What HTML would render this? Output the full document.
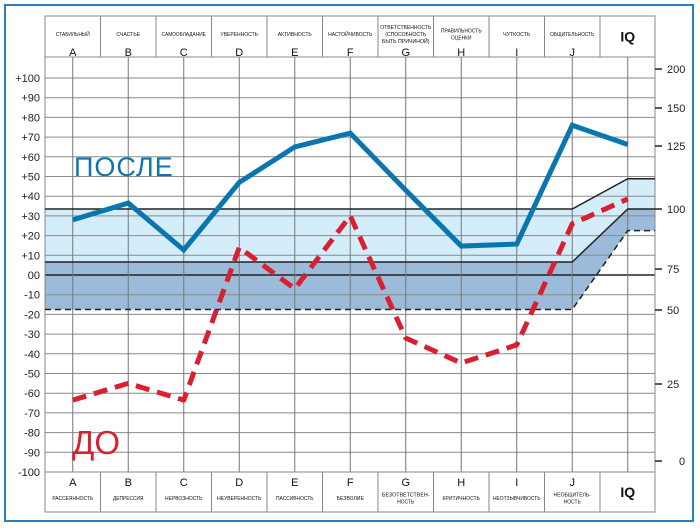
<!DOCTYPE html>
<html><head><meta charset="utf-8">
<style>
html,body{margin:0;padding:0;background:#fff;}
svg{display:block;font-family:"Liberation Sans","DejaVu Sans",sans-serif;}
</style></head>
<body>
<svg id="chart" width="700" height="529" viewBox="0 0 700 529" xmlns="http://www.w3.org/2000/svg">
<rect x="5" y="5" width="688" height="516" fill="#fff" stroke="#2a7fc0" stroke-width="2"/>
<g id="bands"></g>
<g id="grid"></g>
<g id="boxes"></g>
<g id="series"></g>
<text x="74" y="176" font-size="27" fill="#0a76b0" letter-spacing="1">ПОСЛЕ</text>
<text x="72" y="454" font-size="33" fill="#d82030">ДО</text>
</svg>
<script>
const categories = ["A","B","C","D","E","F","G","H","I","J"];
const topLabels = [["СТАБИЛЬНЫЙ"],["СЧАСТЬЕ"],["САМООБЛАДАНИЕ"],["УВЕРЕННОСТЬ"],["АКТИВНОСТЬ"],["НАСТОЙЧИВОСТЬ"],["ОТВЕТСТВЕННОСТЬ","(СПОСОБНОСТЬ","БЫТЬ ПРИЧИНОЙ)"],["ПРАВИЛЬНОСТЬ","ОЦЕНКИ"],["ЧУТКОСТЬ"],["ОБЩИТЕЛЬНОСТЬ"]];
const bottomLabels = [["РАССЕЯННОСТЬ"],["ДЕПРЕССИЯ"],["НЕРВОЗНОСТЬ"],["НЕУВЕРЕННОСТЬ"],["ПАССИВНОСТЬ"],["БЕЗВОЛИЕ"],["БЕЗОТВЕТСТВЕН-","НОСТЬ"],["КРИТИЧНОСТЬ"],["НЕОТЗЫВЧИВОСТЬ"],["НЕОБЩИТЕЛЬ-","НОСТЬ"]];
const afterValues = [28, 36.5, 12.7, 47, 65, 72, 43, 14.7, 15.7, 76];
const afterIQ = 126;
const beforeValues = [-63.5, -55, -63.5, 14, -7, 30, -32, -44.7, -35.5, 26];
const beforeIQ = 104;
const leftTicks = [100,90,80,70,60,50,40,30,20,10,0,-10,-20,-30,-40,-50,-60,-70,-80,-90,-100];
const rightTicks = [200,150,125,100,75,50,25,0];
const bandValues = [33.5, 6.6, -17.5];
const iqBandValues = [112, 100, 91];

const NS="http://www.w3.org/2000/svg";
const X0=45, COLW=55.5, X1=655;
function xc(i){return X0+COLW*(i+0.5);}
function y(v){return 275-1.97*v;}
// right IQ axis: piecewise from reference anchors
const iqDom=[0,25,50,75,100,125,150,200], iqRng=[461,384,310,269,209,146,108,69];
function yiq(v){for(let k=0;k<iqDom.length-1;k++){if(v<=iqDom[k+1]){const t=(v-iqDom[k])/(iqDom[k+1]-iqDom[k]);return iqRng[k]+t*(iqRng[k+1]-iqRng[k]);}}return iqRng[iqRng.length-1];}
function mk(tag,attrs,parent,txt){const e=document.createElementNS(NS,tag);for(const k in attrs)e.setAttribute(k,attrs[k]);if(txt!==undefined)e.textContent=txt;parent.appendChild(e);return e;}
const bands=document.getElementById('bands'),grid=document.getElementById('grid'),boxes=document.getElementById('boxes'),series=document.getElementById('series');
const xJ=xc(9), xQ=xc(10);
// bands
const yT=y(bandValues[0]), yM=y(bandValues[1]), yD=y(bandValues[2]);
const qT=yiq(iqBandValues[0]), qM=yiq(iqBandValues[1]), qD=yiq(iqBandValues[2]);
let p=mk('polygon',{points:`${X0},${yT} ${xJ},${yT} ${xQ},${qT} ${X1},${qT} ${X1},${qM} ${xQ},${qM} ${xJ},${yM} ${X0},${yM}`,fill:'#d4edfa'},bands);


p=mk('polygon',{points:`${X0},${yM} ${xJ},${yM} ${xQ},${qM} ${X1},${qM} ${X1},${qD} ${xQ},${qD} ${xJ},${yD} ${X0},${yD}`,fill:'#9cbad9'},bands);


// grid
leftTicks.forEach(v=>{
  const l=mk('line',{x1:X0,x2:X1,y1:y(v),y2:y(v),stroke:v===0?'#222':'#8a8a8a','stroke-width':v===0?1.5:1},grid);
  
  
  const t=mk('text',{x:40,y:y(v)+4,'font-size':11,'text-anchor':'end',fill:'#222'},grid,v>0?'+'+v:(v===0?'00':''+v));
  
  
});
for(let i=0;i<11;i++){
  const l=mk('line',{x1:xc(i),x2:xc(i),y1:57,y2:472,stroke:'#777','stroke-width':1},grid);
  
  
}
[X0,X1].forEach(xx=>{const l=mk('line',{x1:xx,x2:xx,y1:57,y2:472,stroke:'#888'},grid);
  
  });
// band lines
[[yT,qT,'solid'],[yM,qM,'solid'],[yD,qD,'dash']].forEach(b=>{
  const a={points:`${X0},${b[0]} ${xJ},${b[0]} ${xQ},${b[1]} ${X1},${b[1]}`,fill:'none',stroke:'#222','stroke-width':1.5};
  if(b[2]==='dash')a['stroke-dasharray']='6,4';
  const l=mk('polyline',a,grid);
  
  
});
// right axis
rightTicks.forEach(v=>{
  const l=mk('line',{x1:655,x2:662,y1:yiq(v),y2:yiq(v),stroke:'#222','stroke-width':1.5},grid);
  
  
  const t=mk('text',{x:v===0?679:667,y:yiq(v)+4,'font-size':11,fill:'#222'},grid,''+v);
  
  
});
// header and footer boxes
function boxRow(y0,y1,labels,letterY,labY,name){
  const r=mk('rect',{x:X0,y:y0,width:X1-X0,height:y1-y0,fill:'none',stroke:'#888'},boxes);
  
  
  for(let i=1;i<11;i++){const l=mk('line',{x1:X0+COLW*i,x2:X0+COLW*i,y1:y0,y2:y1,stroke:'#888'},boxes);
    
    }
  for(let i=0;i<10;i++){
    const t=mk('text',{x:xc(i),y:letterY,'font-size':11,'text-anchor':'middle',fill:'#111'},boxes,categories[i]);
    
    
    const lines=labels[i];
    lines.forEach((s,k)=>{
      const ty=labY-(lines.length-1)*3.5+k*7;
      const t2=mk('text',{x:xc(i),y:ty,'font-size':5.6,'text-anchor':'middle',fill:'#111',textLength:Math.min(s.length*3.4,52),lengthAdjust:'spacingAndGlyphs'},boxes,s);
      
      
    });
  }
  const q=mk('text',{x:xQ,y:(y0+y1)/2+5,'font-size':14,'font-weight':'bold','text-anchor':'middle',fill:'#111'},boxes,'IQ');
  
  
}
boxRow(16,57,topLabels,56,36,'header');
boxRow(472,512,bottomLabels,486,500,'footer');
// series
const ap=afterValues.map((v,i)=>xc(i)+','+y(v)).concat([xQ+','+yiq(afterIQ)]).join(' ');
let s=mk('polyline',{points:ap,fill:'none',stroke:'#0a76b0','stroke-width':5,'stroke-linejoin':'miter'},series);


const bp=beforeValues.map((v,i)=>xc(i)+','+y(v)).concat([xQ+','+yiq(beforeIQ)]).join(' ');
s=mk('polyline',{points:bp,fill:'none',stroke:'#d82030','stroke-width':5,'stroke-dasharray':'14,8','stroke-linejoin':'round'},series);


</script>
</body></html>
